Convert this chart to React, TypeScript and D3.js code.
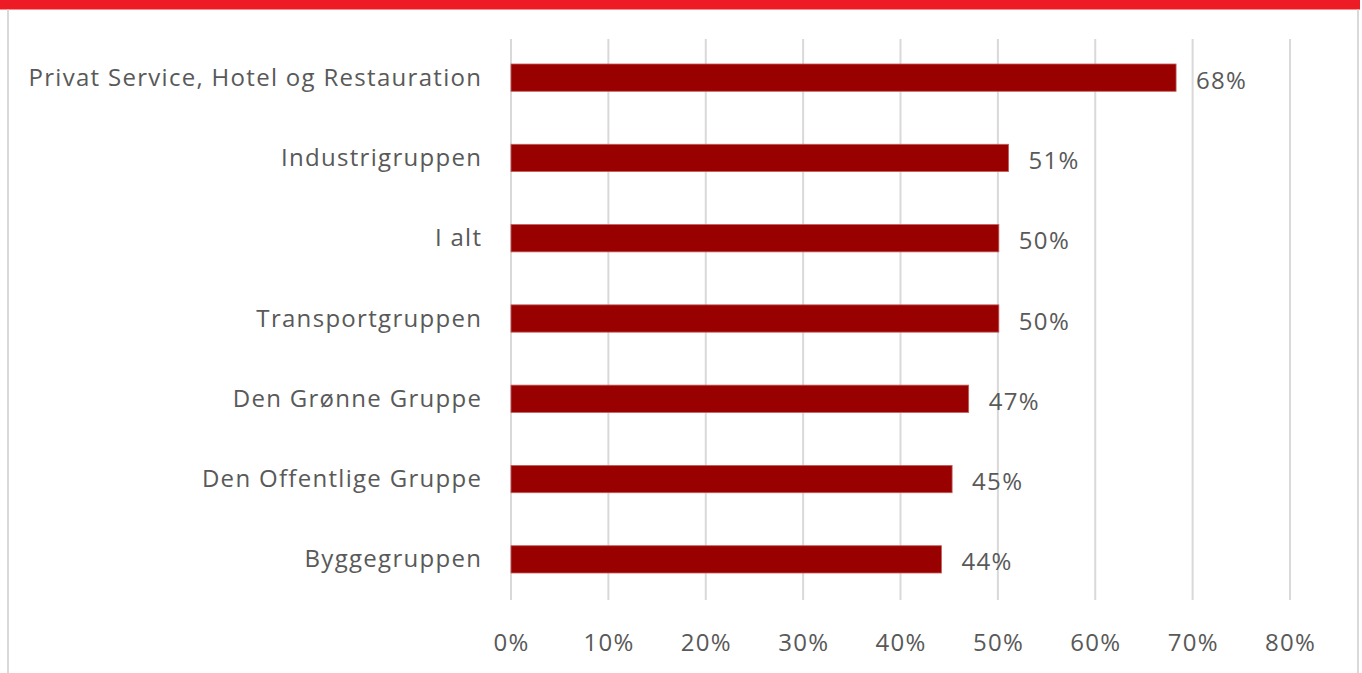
import React from "react";
import * as d3 from "d3";

const categories = [
  "Privat Service, Hotel og Restauration",
  "Industrigruppen",
  "I alt",
  "Transportgruppen",
  "Den Grønne Gruppe",
  "Den Offentlige Gruppe",
  "Byggegruppen",
];
const values = [0.683, 0.511, 0.501, 0.501, 0.47, 0.453, 0.442];
const ticks = [0, 0.1, 0.2, 0.3, 0.4, 0.5, 0.6, 0.7, 0.8];

const W = 1362;
const H = 673;
const FONT = "'Open Sans', 'Noto Sans', sans-serif";
const TEXT = "#595959";
const GRID = "#d9d9d9";
const FS = 24;
const LS = 1.3;

export default function App() {
  const x = d3.scaleLinear().domain([0, 0.8]).range([511, 1290]);
  const y = d3
    .scaleBand<string>()
    .domain(categories)
    .range([38, 600])
    .paddingInner(0.66)
    .paddingOuter(0.33);
  const fmt = d3.format(".0%");

  return (
    <svg
      width={W}
      height={H}
      style={{ position: "absolute", left: 0, top: 0, background: "#fff" }}
    >
      <rect x={0} y={0} width={1360} height={9.5} fill="#ED1C24" />
      <line x1={8} x2={8} y1={9.5} y2={H} stroke={GRID} strokeWidth={2} />
      <line x1={1358} x2={1358} y1={9.5} y2={H} stroke={GRID} strokeWidth={2} />
      {ticks.map((t) => (
        <g key={t}>
          <line
            x1={x(t)}
            x2={x(t)}
            y1={39}
            y2={600}
            stroke={GRID}
            strokeWidth={2}
          />
          <text
            x={x(t) + LS / 2}
            y={641}
            textAnchor="middle"
            dominantBaseline="central"
            fontFamily={FONT}
            fontSize={FS}
            letterSpacing={LS}
            fill={TEXT}
          >
            {fmt(t)}
          </text>
        </g>
      ))}
      {categories.map((c, i) => {
        const yy = y(c)!;
        const bw = y.bandwidth();
        const cy = yy + bw / 2;
        return (
          <g key={c}>
            <rect
              x={x(0)}
              y={yy - 0.5}
              width={x(values[i]) - x(0)}
              height={bw}
              fill="#990000"
              stroke="#c45c5c"
              strokeWidth={0.8}
            />
            <text
              x={481 + LS}
              y={cy - 2}
              textAnchor="end"
              dominantBaseline="central"
              fontFamily={FONT}
              fontSize={FS}
              letterSpacing={LS}
              fill={TEXT}
            >
              {c}
            </text>
            <text
              x={x(values[i]) + 20}
              y={cy + 1}
              textAnchor="start"
              dominantBaseline="central"
              fontFamily={FONT}
              fontSize={FS}
              letterSpacing={LS}
              fill={TEXT}
            >
              {fmt(Math.round(values[i] * 100) / 100)}
            </text>
          </g>
        );
      })}
    </svg>
  );
}
